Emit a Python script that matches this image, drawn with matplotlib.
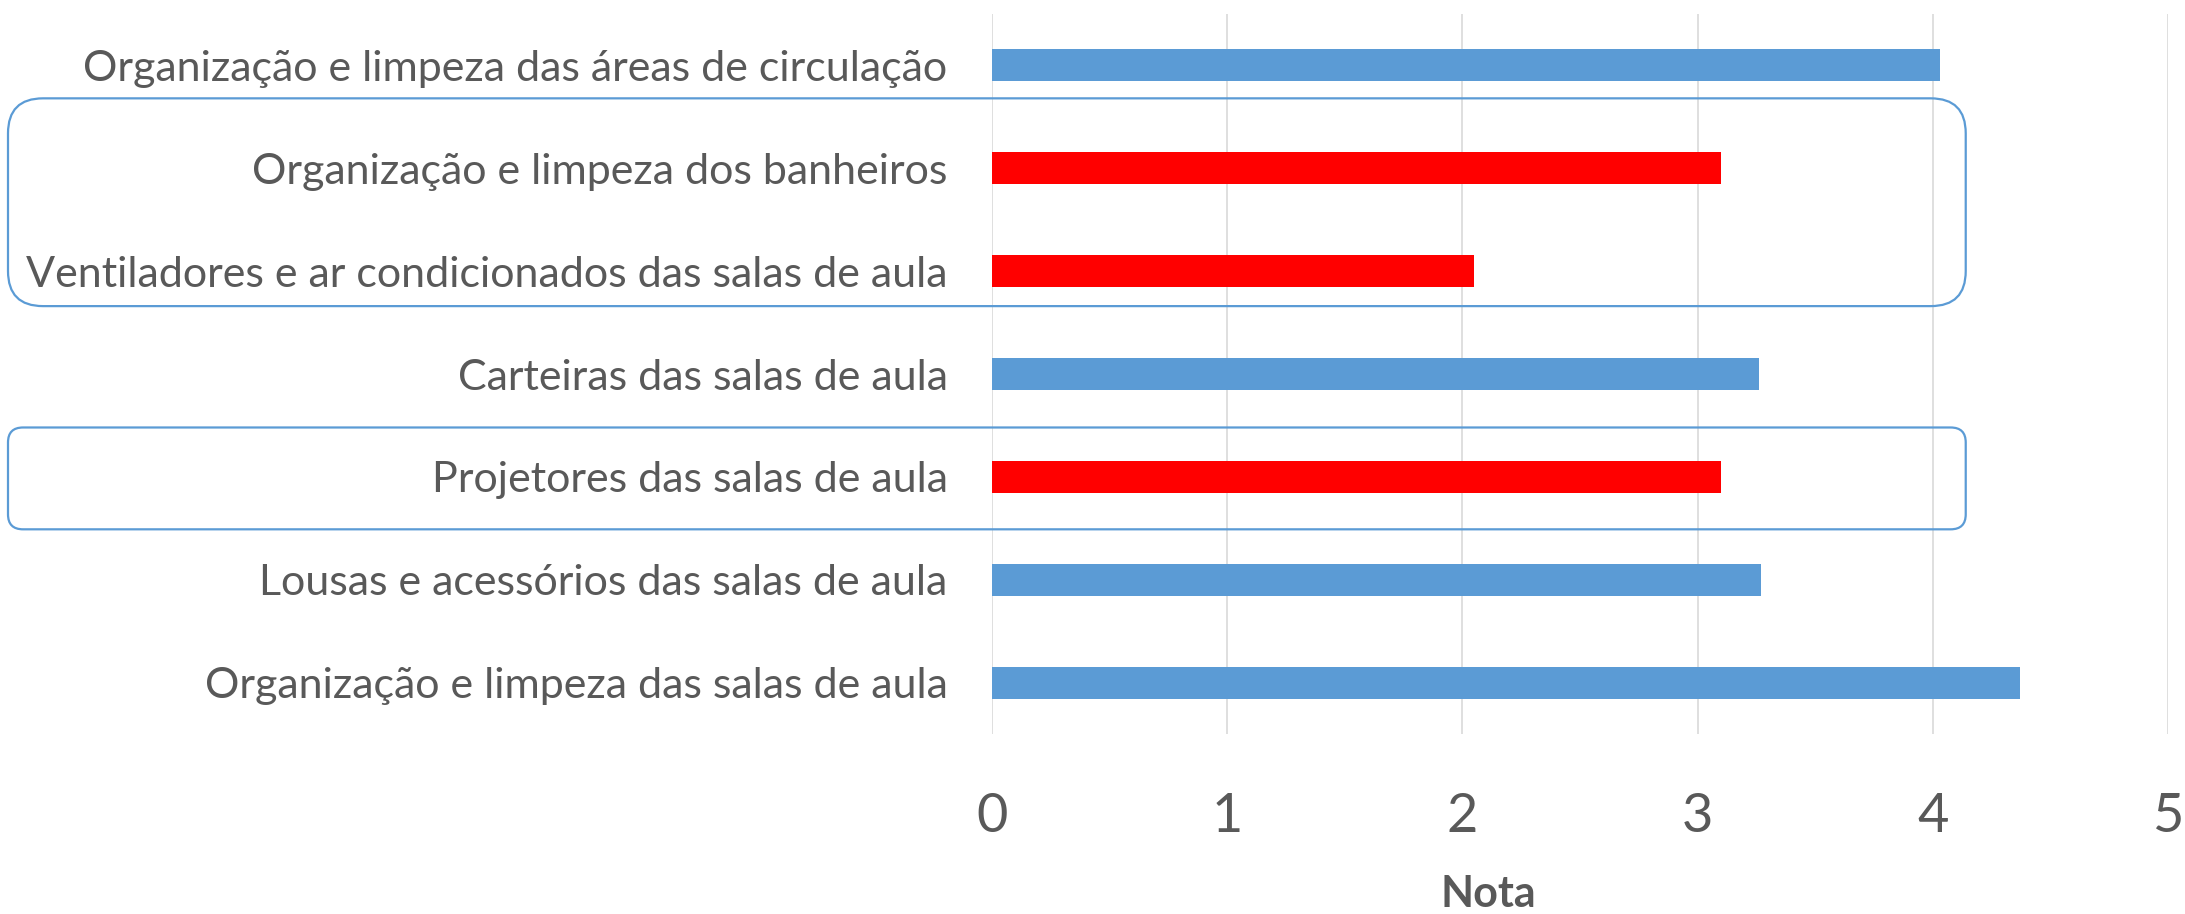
import matplotlib
matplotlib.use("Agg")
import matplotlib.pyplot as plt
from matplotlib.patches import FancyBboxPatch
import numpy as np

# categories listed top to bottom, as in the chart
categorias = [
    "Organização e limpeza das áreas de circulação",
    "Organização e limpeza dos banheiros",
    "Ventiladores e ar condicionados das salas de aula",
    "Carteiras das salas de aula",
    "Projetores das salas de aula",
    "Lousas e acessórios das salas de aula",
    "Organização e limpeza das salas de aula",
]
notas = [4.03, 3.10, 2.05, 3.26, 3.10, 3.27, 4.37]
destaque = [False, True, True, False, True, False, False]
ticks_x = [0, 1, 2, 3, 4, 5]

AZUL = "#5B9BD5"
VERMELHO = "#FF0000"
CINZA = "#595959"

plt.rcParams["font.family"] = ["Lato", "DejaVu Sans"]

W, H, DPI = 2185, 914, 100
fig = plt.figure(figsize=(W / DPI, H / DPI), dpi=DPI)
ax = fig.add_axes([992 / W, 1 - 734 / H, (2168 - 992) / W, (734 - 14) / H])

y = np.arange(len(categorias))
cores = [VERMELHO if d else AZUL for d in destaque]
ax.barh(y, notas, height=0.31, color=cores, zorder=3)

ax.set_xlim(0, 5)
ax.set_ylim(len(categorias) - 0.5, -0.5)
ax.set_xticks(ticks_x)
ax.set_yticks(y)
ax.set_yticklabels(categorias)
ax.tick_params(axis="y", length=0, pad=32, labelsize=31, labelcolor=CINZA)
ax.tick_params(axis="x", length=0, pad=42, labelsize=39, labelcolor=CINZA)
ax.grid(axis="x", color="#D9D9D9", linewidth=1.2, zorder=0)
for s in ax.spines.values():
    s.set_visible(False)

fig.text(1488 / W, 1 - 894 / H, "Nota", ha="center", va="center",
         fontsize=31, fontweight="bold", color=CINZA)

# rounded boxes around the highlighted items (y in category units)
caixas = [(0.32, 2.34, 35), (3.52, 4.51, 15)]
x_dir = 4.14
for y0, y1, raio in caixas:
    (_, py_top), (px_r, py_bot) = ax.transData.transform([(0, y0), (x_dir, y1)])
    px_l = 8
    box = FancyBboxPatch((px_l + raio, py_bot + raio),
                         px_r - px_l - 2 * raio, py_top - py_bot - 2 * raio,
                         boxstyle=f"round,pad={raio}",
                         transform=None, fill=False, edgecolor=AZUL,
                         linewidth=1.6, zorder=5, clip_on=False)
    fig.add_artist(box)

fig.savefig("out.png", dpi=DPI)
